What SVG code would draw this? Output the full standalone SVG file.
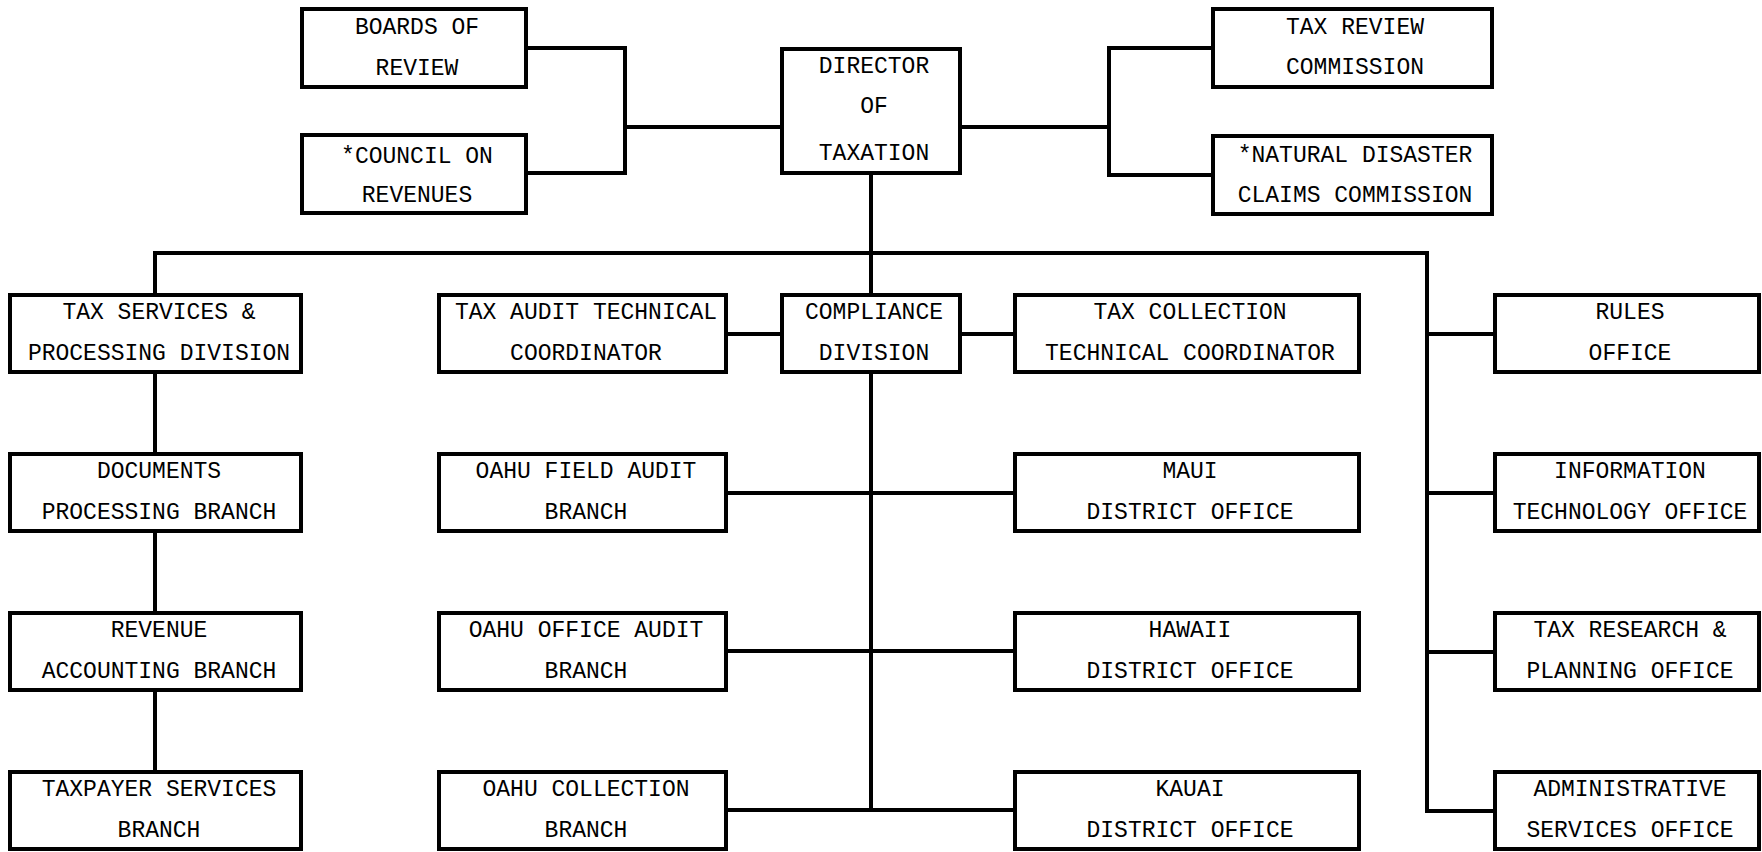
<svg xmlns="http://www.w3.org/2000/svg" width="1762" height="852" viewBox="0 0 1762 852">
<style>
  .box { fill: #fff; stroke: #000; stroke-width: 4; }
  .lbl { font-family: "Liberation Mono", "DejaVu Sans Mono", monospace; font-size: 23px; fill: #000; text-anchor: middle; }
  .conn { fill: none; stroke: #000; stroke-width: 4; stroke-linecap: square; }
</style>
<rect width="1762" height="852" fill="#fff"/>
<g id="connectors" class="conn">
  <path d="M528 48 H625 V173 H528"/>
  <path d="M625 127 H780"/>
  <path d="M962 127 H1109"/>
  <path d="M1211 48 H1109 V175 H1211"/>
  <path d="M871 175 V293"/>
  <path d="M155 293 V253 H1427 V811 H1493"/>
  <path d="M1427 334 H1493"/>
  <path d="M1427 493 H1493"/>
  <path d="M1427 652 H1493"/>
  <path d="M155 374 V452"/>
  <path d="M155 533 V611"/>
  <path d="M155 692 V770"/>
  <path d="M728 334 H780"/>
  <path d="M962 334 H1013"/>
  <path d="M871 374 V810"/>
  <path d="M728 493 H1013"/>
  <path d="M728 651 H1013"/>
  <path d="M728 810 H1013"/>
</g>
<g id="boards-of-review">
  <rect class="box" x="302" y="9" width="224" height="78"/>
  <text class="lbl" x="417" y="34">BOARDS OF</text>
  <text class="lbl" x="417" y="75">REVIEW</text>
</g>
<g id="council-on-revenues">
  <rect class="box" x="302" y="135" width="224" height="78"/>
  <text class="lbl" x="417" y="163">*COUNCIL ON</text>
  <text class="lbl" x="417" y="202">REVENUES</text>
</g>
<g id="director">
  <rect class="box" x="782" y="49" width="178" height="124"/>
  <text class="lbl" x="874" y="73">DIRECTOR</text>
  <text class="lbl" x="874" y="113">OF</text>
  <text class="lbl" x="874" y="160">TAXATION</text>
</g>
<g id="tax-review-commission">
  <rect class="box" x="1213" y="9" width="279" height="78"/>
  <text class="lbl" x="1355" y="34">TAX REVIEW</text>
  <text class="lbl" x="1355" y="74">COMMISSION</text>
</g>
<g id="natural-disaster">
  <rect class="box" x="1213" y="136" width="279" height="78"/>
  <text class="lbl" x="1355" y="162">*NATURAL DISASTER</text>
  <text class="lbl" x="1355" y="202">CLAIMS COMMISSION</text>
</g>
<g id="tax-services">
  <rect class="box" x="10" y="295" width="291" height="77"/>
  <text class="lbl" x="159" y="319">TAX SERVICES &amp;</text>
  <text class="lbl" x="159" y="360">PROCESSING DIVISION</text>
</g>
<g id="documents-processing">
  <rect class="box" x="10" y="454" width="291" height="77"/>
  <text class="lbl" x="159" y="478">DOCUMENTS</text>
  <text class="lbl" x="159" y="519">PROCESSING BRANCH</text>
</g>
<g id="revenue-accounting">
  <rect class="box" x="10" y="613" width="291" height="77"/>
  <text class="lbl" x="159" y="637">REVENUE</text>
  <text class="lbl" x="159" y="678">ACCOUNTING BRANCH</text>
</g>
<g id="taxpayer-services">
  <rect class="box" x="10" y="772" width="291" height="77"/>
  <text class="lbl" x="159" y="796">TAXPAYER SERVICES</text>
  <text class="lbl" x="159" y="837">BRANCH</text>
</g>
<g id="tax-audit-technical">
  <rect class="box" x="439" y="295" width="287" height="77"/>
  <text class="lbl" x="586" y="319">TAX AUDIT TECHNICAL</text>
  <text class="lbl" x="586" y="360">COORDINATOR</text>
</g>
<g id="compliance-division">
  <rect class="box" x="782" y="295" width="178" height="77"/>
  <text class="lbl" x="874" y="319">COMPLIANCE</text>
  <text class="lbl" x="874" y="360">DIVISION</text>
</g>
<g id="tax-collection-technical">
  <rect class="box" x="1015" y="295" width="344" height="77"/>
  <text class="lbl" x="1190" y="319">TAX COLLECTION</text>
  <text class="lbl" x="1190" y="360">TECHNICAL COORDINATOR</text>
</g>
<g id="oahu-field-audit">
  <rect class="box" x="439" y="454" width="287" height="77"/>
  <text class="lbl" x="586" y="478">OAHU FIELD AUDIT</text>
  <text class="lbl" x="586" y="519">BRANCH</text>
</g>
<g id="maui-district">
  <rect class="box" x="1015" y="454" width="344" height="77"/>
  <text class="lbl" x="1190" y="478">MAUI</text>
  <text class="lbl" x="1190" y="519">DISTRICT OFFICE</text>
</g>
<g id="oahu-office-audit">
  <rect class="box" x="439" y="613" width="287" height="77"/>
  <text class="lbl" x="586" y="637">OAHU OFFICE AUDIT</text>
  <text class="lbl" x="586" y="678">BRANCH</text>
</g>
<g id="hawaii-district">
  <rect class="box" x="1015" y="613" width="344" height="77"/>
  <text class="lbl" x="1190" y="637">HAWAII</text>
  <text class="lbl" x="1190" y="678">DISTRICT OFFICE</text>
</g>
<g id="oahu-collection">
  <rect class="box" x="439" y="772" width="287" height="77"/>
  <text class="lbl" x="586" y="796">OAHU COLLECTION</text>
  <text class="lbl" x="586" y="837">BRANCH</text>
</g>
<g id="kauai-district">
  <rect class="box" x="1015" y="772" width="344" height="77"/>
  <text class="lbl" x="1190" y="796">KAUAI</text>
  <text class="lbl" x="1190" y="837">DISTRICT OFFICE</text>
</g>
<g id="rules-office">
  <rect class="box" x="1495" y="295" width="264" height="77"/>
  <text class="lbl" x="1630" y="319">RULES</text>
  <text class="lbl" x="1630" y="360">OFFICE</text>
</g>
<g id="information-technology">
  <rect class="box" x="1495" y="454" width="264" height="77"/>
  <text class="lbl" x="1630" y="478">INFORMATION</text>
  <text class="lbl" x="1630" y="519">TECHNOLOGY OFFICE</text>
</g>
<g id="tax-research-planning">
  <rect class="box" x="1495" y="613" width="264" height="77"/>
  <text class="lbl" x="1630" y="637">TAX RESEARCH &amp;</text>
  <text class="lbl" x="1630" y="678">PLANNING OFFICE</text>
</g>
<g id="administrative-services">
  <rect class="box" x="1495" y="772" width="264" height="77"/>
  <text class="lbl" x="1630" y="796">ADMINISTRATIVE</text>
  <text class="lbl" x="1630" y="837">SERVICES OFFICE</text>
</g>
</svg>
